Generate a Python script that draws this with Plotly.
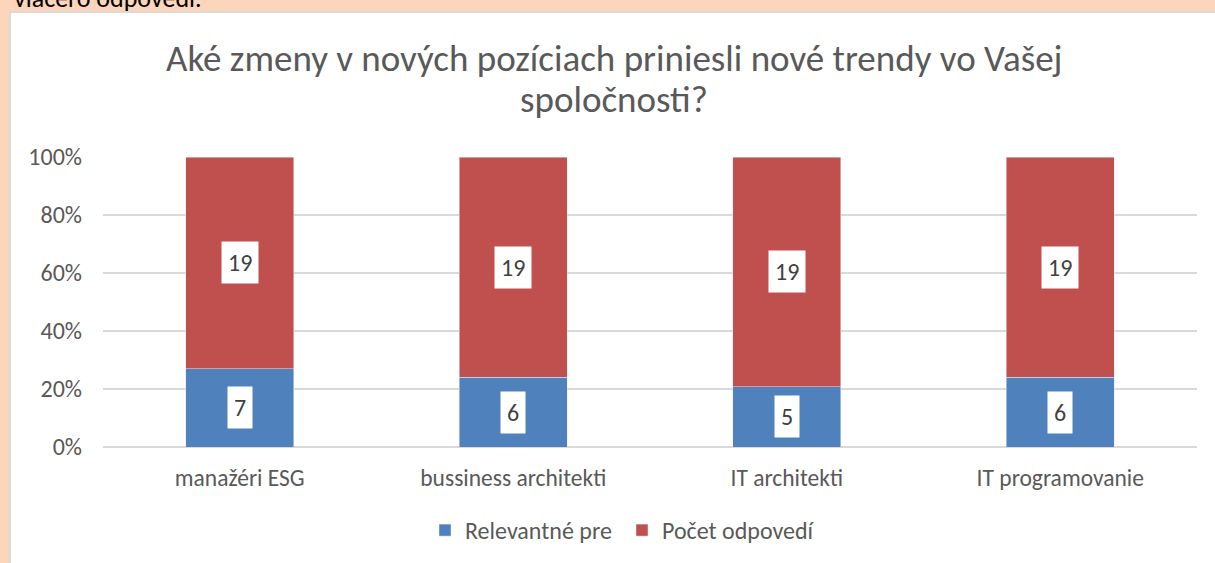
import plotly.graph_objects as go

categories = ["manažéri ESG", "bussiness architekti", "IT architekti", "IT programovanie"]
relevantne = [7, 6, 5, 6]
pocet = [19, 19, 19, 19]
series_names = ["Relevantné pre", "Počet odpovedí"]
tick_vals = [0, 20, 40, 60, 80, 100]
tick_text = ["0%", "20%", "40%", "60%", "80%", "100%"]
title_lines = ["Aké zmeny v nových pozíciach priniesli nové trendy vo Vašej", "spoločnosti?"]

BLUE = "#4F81BD"
RED = "#C0504D"
FONT = "Carlito, Calibri, Lato, sans-serif"
GREY = "#595959"

W, H = 1215, 563
L, R, T, B = 103, 18, 157, 116
pw, ph = W - L - R, H - T - B

def px_x(px):
    return (px - L) / pw

def px_y(py):
    return (H - B - py) / ph

fig = go.Figure()
fig.add_bar(x=categories, y=relevantne, name=series_names[0], marker_color=BLUE)
fig.add_bar(x=categories, y=pocet, name=series_names[1], marker_color=RED)

annotations = []
for c, a, b in zip(categories, relevantne, pocet):
    tot = a + b
    pa = a / tot * 100
    pb = b / tot * 100
    for val, center in ((a, pa / 2), (b, pa + pb / 2)):
        annotations.append(dict(
            x=c, y=center, xref="x", yref="y", text=str(val), showarrow=False,
            bgcolor="white", font=dict(family=FONT, size=24, color="#404040"),
            borderpad=6,
        ))

for line, cy in zip(title_lines, (58, 100)):
    annotations.append(dict(
        x=px_x(W / 2 + 6), y=px_y(cy), xref="paper", yref="paper", text=line,
        showarrow=False, xanchor="center", yanchor="middle",
        font=dict(family=FONT, size=37, color=GREY),
    ))

annotations.append(dict(
    x=px_x(12), y=px_y(10), xref="paper", yref="paper", text="viacero odpovedí.",
    showarrow=False, xanchor="left", yanchor="bottom", yshift=-6,
    font=dict(family=FONT, size=26, color="black"),
))

shapes = [
    dict(type="rect", xref="paper", yref="paper", layer="below",
         x0=px_x(10), x1=px_x(1220), y0=px_y(12), y1=px_y(570),
         fillcolor="white", line=dict(color="#D9D9D9", width=2)),
]

fig.update_layout(
    width=W, height=H,
    margin=dict(l=L, r=R, t=T, b=B),
    paper_bgcolor="#FCD5BA",
    plot_bgcolor="rgba(0,0,0,0)",
    barmode="stack",
    barnorm="percent",
    bargap=0.605,
    xaxis=dict(
        showgrid=False, showline=False, ticks="", automargin=False,
        tickfont=dict(family=FONT, size=23.5, color=GREY),
        ticklabelstandoff=14,
    ),
    yaxis=dict(
        range=[0, 100], tickvals=tick_vals, ticktext=tick_text, automargin=False,
        showgrid=True, gridcolor="#D9D9D9", gridwidth=2,
        zeroline=True, zerolinecolor="#D9D9D9", zerolinewidth=2,
        showline=False, ticks="",
        tickfont=dict(family=FONT, size=24, color=GREY),
        ticklabelstandoff=20,
    ),
    legend=dict(
        orientation="h", x=425 / W, xanchor="left", xref="container",
        y=1 - 508 / H, yanchor="top", yref="container",
        bgcolor="rgba(0,0,0,0)",
        font=dict(family=FONT, size=24, color=GREY),
        itemwidth=30, traceorder="normal",
        entrywidth=152, entrywidthmode="pixels",
    ),
    showlegend=True,
    annotations=annotations,
    shapes=shapes,
)

fig.write_html("out.html", config={"displayModeBar": False},
               post_script="document.body.style.margin='0px';")
